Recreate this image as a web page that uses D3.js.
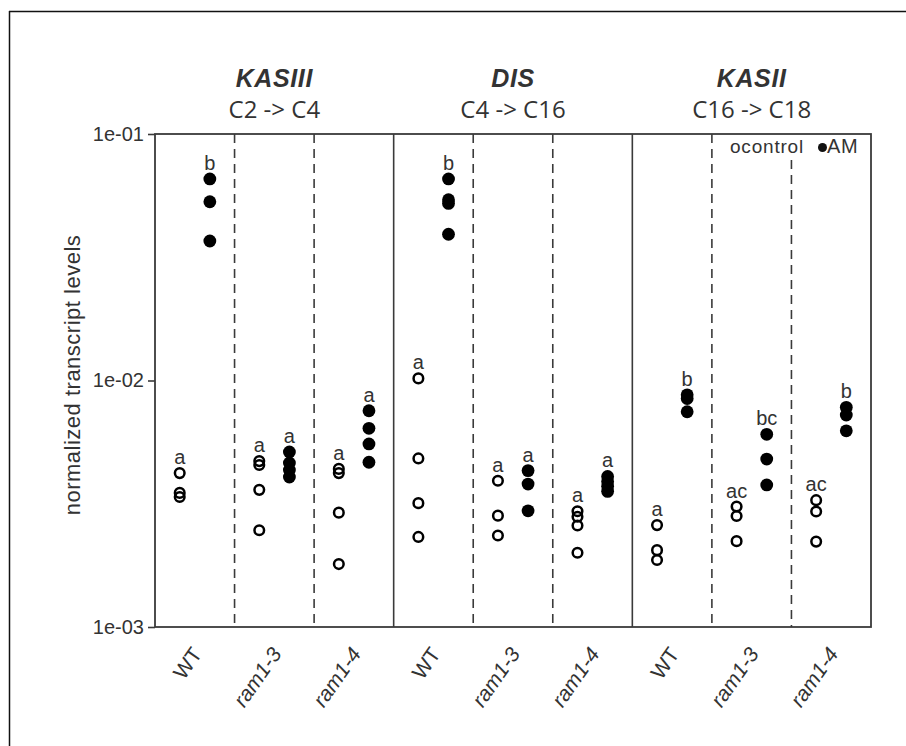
<!DOCTYPE html>
<html>
<head>
<meta charset="utf-8">
<script src="https://cdn.jsdelivr.net/npm/d3@7"></script>
<style>
  html, body { margin: 0; padding: 0; background: #fff; }
  svg { display: block; }
  text { font-family: "Liberation Sans", Arial, sans-serif; fill: #333; }
</style>
</head>
<body>
<svg id="chart" width="906" height="746"></svg>
<script>
// ---------- data ----------
const genes = ["KASIII", "DIS", "KASII"];
const conversions = ["C2 -> C4", "C4 -> C16", "C16 -> C18"];
const genotypes = ["WT", "ram1-3", "ram1-4"];
const treatments = ["control", "AM"];
const yTickValues = [1e-3, 1e-2, 1e-1];
const yTickLabels = ["1e-03", "1e-02", "1e-01"];
const yTitle = "normalized transcript levels";

// values per genotype (WT, ram1-3, ram1-4)
const kasiiiControl = [[4.21e-3, 3.50e-3, 3.37e-3], [4.71e-3, 4.54e-3, 3.60e-3, 2.47e-3], [4.38e-3, 4.21e-3, 2.91e-3, 1.80e-3]];
const kasiiiAM      = [[0.0657, 0.0531, 0.0368], [5.13e-3, 4.63e-3, 4.33e-3, 4.06e-3], [7.54e-3, 6.40e-3, 5.53e-3, 4.66e-3]];
const disControl    = [[1.02e-2, 4.83e-3, 3.18e-3, 2.32e-3], [3.92e-3, 2.83e-3, 2.35e-3], [2.95e-3, 2.80e-3, 2.58e-3, 2.00e-3]];
const disAM         = [[0.0657, 0.0541, 0.0523, 0.0392], [4.31e-3, 3.80e-3, 2.96e-3], [4.08e-3, 3.89e-3, 3.72e-3, 3.55e-3]];
const kasiiControl  = [[2.59e-3, 2.05e-3, 1.87e-3], [3.08e-3, 2.82e-3, 2.23e-3], [3.27e-3, 2.94e-3, 2.22e-3]];
const kasiiAM       = [[8.75e-3, 8.45e-3, 7.47e-3], [6.05e-3, 4.80e-3, 3.77e-3], [7.78e-3, 7.24e-3, 6.25e-3]];

// significance letters per gene, per genotype
const controlLetters = [["a", "a", "a"], ["a", "a", "a"], ["a", "ac", "ac"]];
const amLetters      = [["b", "a", "a"], ["b", "a", "a"], ["b", "bc", "b"]];

const controlByGene = [kasiiiControl, disControl, kasiiControl];
const amByGene = [kasiiiAM, disAM, kasiiAM];

// ---------- layout ----------
const svg = d3.select("#chart");
const L = 155, R = 871, T = 134, B = 627;

// outer figure border (left + top)
svg.append("line").attr("x1", 9.5).attr("x2", 9.5).attr("y1", 11).attr("y2", 746)
  .attr("stroke", "#111").attr("stroke-width", 1.5);
svg.append("line").attr("x1", 9).attr("x2", 906).attr("y1", 11.5).attr("y2", 11.5)
  .attr("stroke", "#111").attr("stroke-width", 1.5);

const groups = [];
genes.forEach(g => genotypes.forEach(gt => groups.push(g + "|" + gt)));

const x = d3.scaleBand().domain(groups).range([L, R]).padding(0);
const xt = d3.scalePoint().domain(treatments).range([0, x.bandwidth()]).padding(0.82);
const y = d3.scaleLog().domain([1e-3, 1e-1]).range([B, T]);

// dashed separators inside panels
groups.forEach((key, i) => {
  if (i === 0 || i % 3 === 0) return;
  const gx = x(key);
  const lastPanelLegend = (i === 8);
  svg.append("line")
    .attr("x1", gx).attr("x2", gx)
    .attr("y1", lastPanelLegend ? 160 : T).attr("y2", B)
    .attr("stroke", "#3a3a3a").attr("stroke-width", 1.6)
    .attr("stroke-dasharray", "9,6");
});
// solid panel separators
[3, 6].forEach(i => {
  const gx = x(groups[i]);
  svg.append("line").attr("x1", gx).attr("x2", gx).attr("y1", T).attr("y2", B)
    .attr("stroke", "#3a3a3a").attr("stroke-width", 1.6);
});
// frame
svg.append("rect").attr("x", L).attr("y", T).attr("width", R - L).attr("height", B - T)
  .attr("fill", "none").attr("stroke", "#3a3a3a").attr("stroke-width", 1.8);

// y axis
const yAxis = d3.axisLeft(y).tickValues(yTickValues)
  .tickFormat((d, i) => yTickLabels[i]).tickSize(7).tickPadding(4);
const yg = svg.append("g").attr("transform", `translate(${L},0)`).call(yAxis);
yg.select(".domain").remove();
yg.selectAll(".tick line").attr("stroke", "#3a3a3a").attr("stroke-width", 1.6);
yg.selectAll(".tick text").attr("font-size", 20).attr("fill", "#333")
  .style("font-family", "Liberation Sans, Arial, sans-serif");

// y title
svg.append("text")
  .attr("transform", `translate(80,375) rotate(-90)`)
  .attr("text-anchor", "middle")
  .attr("font-size", 22).attr("letter-spacing", 0.5)
  .text(yTitle);

// x axis labels
const xAxis = d3.axisBottom(x).tickSize(0).tickFormat(k => k.split("|")[1]);
const xg = svg.append("g").attr("transform", `translate(0,${B})`).call(xAxis);
xg.select(".domain").remove();
xg.selectAll(".tick text")
  .attr("y", 0).attr("dy", 0)
  .attr("transform", "translate(8,27) rotate(-55)")
  .attr("text-anchor", "end")
  .attr("font-size", 21).attr("fill", "#333")
  .attr("font-style", k => k.split("|")[1] === "WT" ? "normal" : "italic")
  .style("font-family", "Liberation Sans, Arial, sans-serif");

// panel titles
genes.forEach((g, gi) => {
  const x0 = x(g + "|" + genotypes[0]);
  const x1 = x(g + "|" + genotypes[2]) + x.bandwidth();
  const cx = (x0 + x1) / 2;
  svg.append("text").attr("x", cx).attr("y", 87)
    .attr("text-anchor", "middle").attr("font-size", 25)
    .attr("font-weight", "bold").attr("font-style", "italic")
    .attr("letter-spacing", 0.6).attr("fill", "#222")
    .text(g);
  svg.append("text").attr("x", cx).attr("y", 118)
    .attr("text-anchor", "middle").attr("font-size", 24)
    .style("font-family", "'Open Sans', 'Noto Sans', sans-serif")
    .attr("fill", "#222")
    .text(conversions[gi]);
});

// points + letters
genes.forEach((g, gi) => {
  genotypes.forEach((gt, ti) => {
    const key = g + "|" + gt;
    const cxC = x(key) + xt("control");
    const cxA = x(key) + xt("AM");
    const cVals = controlByGene[gi][ti];
    const aVals = amByGene[gi][ti];

    svg.append("g").selectAll("circle").data(cVals).join("circle")
      .attr("cx", cxC).attr("cy", d => y(d)).attr("r", 4.8)
      .attr("fill", "none").attr("stroke", "#000").attr("stroke-width", 2.5);
    svg.append("g").selectAll("circle").data(aVals).join("circle")
      .attr("cx", cxA).attr("cy", d => y(d)).attr("r", 6.4)
      .attr("fill", "#000");

    svg.append("text").attr("x", cxC).attr("y", y(d3.max(cVals)) - 9)
      .attr("text-anchor", "middle").attr("font-size", 20)
      .text(controlLetters[gi][ti]);
    svg.append("text").attr("x", cxA).attr("y", y(d3.max(aVals)) - 9)
      .attr("text-anchor", "middle").attr("font-size", 20)
      .text(amLetters[gi][ti]);
  });
});

// legend
svg.append("text").attr("x", 730).attr("y", 153).attr("font-size", 19)
  .attr("letter-spacing", 0.8).text("o" + treatments[0]);
svg.append("circle").attr("cx", 822.5).attr("cy", 147.5).attr("r", 4.5).attr("fill", "#111");
svg.append("text").attr("x", 827).attr("y", 153).attr("font-size", 20)
  .attr("letter-spacing", 0.7).text(treatments[1]);
</script>
</body>
</html>
